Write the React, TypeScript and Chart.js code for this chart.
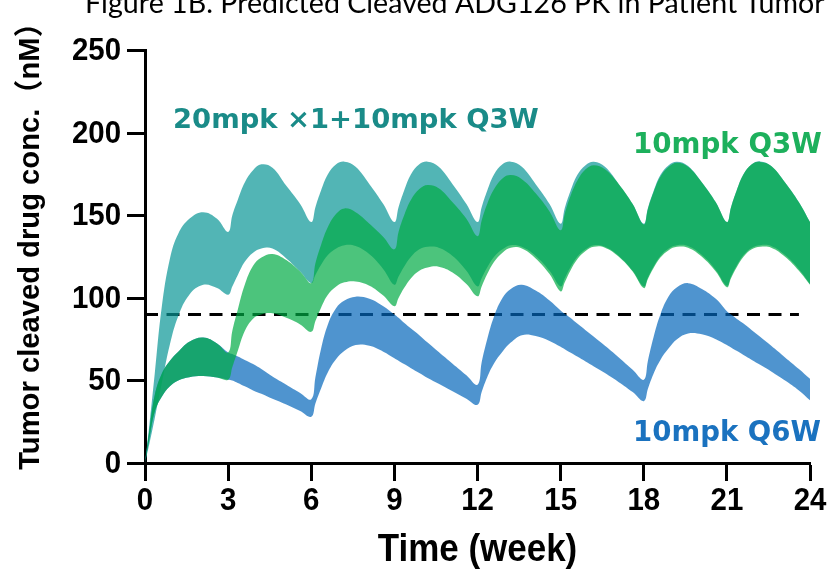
import { useEffect, useRef } from "react";
import { Chart, registerables } from "chart.js";

Chart.register(...registerables);

// Sampling times (weeks); each 3-week dosing interval is sampled densely right after the dose.
const WEEKS = [
  0, 0.15, 0.35, 0.6, 0.9, 1.2, 1.6, 2.1, 2.6,
  3, 3.15, 3.35, 3.6, 3.9, 4.2, 4.6, 5.1, 5.6,
  6, 6.15, 6.35, 6.6, 6.9, 7.2, 7.6, 8.1, 8.6,
  9, 9.15, 9.35, 9.6, 9.9, 10.2, 10.6, 11.1, 11.6,
  12, 12.15, 12.35, 12.6, 12.9, 13.2, 13.6, 14.1, 14.6,
  15, 15.15, 15.35, 15.6, 15.9, 16.2, 16.6, 17.1, 17.6,
  18, 18.15, 18.35, 18.6, 18.9, 19.2, 19.6, 20.1, 20.6,
  21, 21.15, 21.35, 21.6, 21.9, 22.2, 22.6, 23.1, 23.6,
  24,
];

// 20mpk x1 + 10mpk Q3W: upper / lower bound (nM)
const LOADING_HIGH = [
  0, 22, 54, 94, 124, 139, 148, 152, 148,
  140, 150, 159.5, 170, 177.5, 181, 179, 168, 157,
  146, 155, 165, 175, 181, 182.6, 179.5, 169, 157,
  146, 155, 165, 175, 181, 182.6, 179.5, 169, 157,
  146, 155, 165, 175, 181, 182.6, 179.5, 169, 157,
  145, 154.5, 164.5, 174.5, 180.5, 182.6, 179.5, 169, 157,
  145, 154.5, 164.5, 174.5, 180.5, 182.6, 180, 170, 158,
  146, 155, 165, 175, 181, 182.8, 180, 170, 158,
  146,
];
const LOADING_LOW = [
  0, 11, 27, 48, 72, 89, 102, 108, 106,
  102, 107, 114, 122, 127.5, 130, 130, 124, 116,
  109, 114, 120, 126, 130, 132, 131.5, 126.5, 117.5,
  108, 113, 119, 125, 129.5, 131, 130.5, 125.5, 116.5,
  107, 112, 118.5, 125, 129.5, 132, 131, 125.5, 116.5,
  107, 112, 118.5, 125, 129.5, 132, 131, 125.5, 116.5,
  107, 112.5, 119, 125.5, 130, 132, 131.5, 126, 117,
  107.5, 113, 119.5, 126, 130.5, 132, 131.5, 126, 117.5,
  108.5,
];

// 10mpk Q3W: upper / lower bound (nM)
const Q3W_HIGH = [
  0, 19, 41, 54, 62, 67.5, 73.5, 76, 72.5,
  67, 80, 93, 108, 119.5, 124.5, 126.7, 123, 116,
  109, 121, 132, 143, 151, 154.3, 152, 145, 137,
  129.5, 140, 150, 159.5, 166, 168.5, 166.5, 158, 148,
  137.5, 147, 157, 166, 172.5, 174.5, 172, 163.5, 152.5,
  141, 151, 161.5, 171, 178, 180.5, 178, 169, 157,
  144.5, 154, 164, 173.5, 179.5, 182, 179.5, 170, 158,
  146, 155, 165, 175, 181, 182.5, 180, 170, 158,
  146,
];
const Q3W_LOW = [
  0, 14, 31, 40, 46.5, 50, 52, 52.7, 51.8,
  50.5, 58, 68, 80, 87.5, 90, 90.7, 88, 84,
  79.5, 86, 94, 102, 107, 109.5, 110, 107.5, 101.5,
  95, 100, 106, 112, 116.5, 118.5, 119, 115.5, 108.5,
  101, 107, 114.5, 122, 127.5, 130.5, 130, 124, 114.5,
  104, 109.5, 116.5, 123.5, 128.5, 131, 130.5, 125, 116,
  106, 111.5, 118, 124.5, 129, 131, 130.5, 125, 116,
  106.5, 112, 118.5, 125, 129.5, 131, 130.5, 125, 116.5,
  108,
];

// 10mpk Q6W: upper / lower bound (nM)
const Q6W_HIGH = [
  0, 19, 41, 54, 62, 67.5, 73.5, 76, 72.5,
  67, 66, 64.5, 62.5, 60, 57, 52.5, 47.5, 42.5,
  38.6, 52, 69, 84, 94, 98.5, 100.8, 99.5, 95,
  90, 88, 85, 81.5, 77.5, 73, 67.3, 60.2, 53.2,
  47.4, 61, 75, 89, 100, 105.5, 108, 104.5, 98.5,
  92.5, 90.5, 88, 84.5, 80.5, 76.5, 71, 64, 56.5,
  50.5, 62, 76, 90, 101, 106.5, 109, 105.5, 99.5,
  92, 90, 87.5, 84.5, 80.5, 76.5, 71, 64, 57,
  51,
];
const Q6W_LOW = [
  0, 14, 31, 40, 46.5, 50, 52, 52.7, 51.8,
  50.5, 50, 48.5, 46.5, 44, 42, 39, 35.5, 31.5,
  28, 36, 45, 55, 63, 68, 71.5, 71, 67.5,
  63.5, 62, 60, 57.5, 54.5, 51.5, 48, 43.5, 39,
  35.3, 43, 52, 60.5, 67.5, 73, 77.5, 77, 74,
  70.5, 69, 67, 64.5, 61.5, 58.5, 54.5, 49, 43,
  37.5, 45, 54, 62.5, 69.5, 75, 78.5, 78, 75,
  71.5, 70, 68, 65.5, 62.5, 59.5, 55.5, 50, 44,
  38,
];

// Efficacy threshold (nM) and the span of weeks it is drawn over
const THRESHOLD = 90;
const THRESHOLD_WEEKS = [0, 23.6];

const X_MIN = 0;
const X_MAX = 24;
const X_STEP = 3;
const Y_MIN = 0;
const Y_MAX = 250;
const Y_STEP = 50;

const FIGURE_TITLE = "Figure 1B. Predicted Cleaved ADG126 PK in Patient Tumor";
const X_TITLE = "Time (week)";
const Y_TITLE = "Tumor cleaved drug conc.（nM）";
const LOADING_LABEL = "20mpk ×1+10mpk Q3W";
const Q3W_LABEL = "10mpk Q3W";
const Q6W_LABEL = "10mpk Q6W";

const TEAL_FILL = "rgba(8,149,149,0.7)";
const GREEN_FILL = "rgba(0,171,69,0.7)";
const BLUE_FILL = "rgba(4,102,186,0.7)";
const TEAL_TEXT = "#1a8b88";
const GREEN_TEXT = "#1db05c";
const BLUE_TEXT = "#1a72bf";

const AXIS_FONT = '"Liberation Sans", Arial, "Noto Sans CJK SC", sans-serif';
const LABEL_FONT = '"DejaVu Sans", Verdana, sans-serif';
const TITLE_FONT = 'Lato, "Noto Sans", sans-serif';
const SQUEEZE = 0.92;

const toPoints = (values: number[]) => WEEKS.map((x, i) => ({ x, y: values[i] }));

function fitSize(ctx: CanvasRenderingContext2D, text: string, weight: string, family: string, width: number) {
  ctx.font = `${weight} 100px ${family}`;
  return (100 * width) / ctx.measureText(text).width;
}

function drawSqueezed(
  ctx: CanvasRenderingContext2D,
  text: string,
  x: number,
  y: number,
  align: CanvasTextAlign,
  baseline: CanvasTextBaseline
) {
  ctx.save();
  ctx.translate(x, y);
  ctx.scale(SQUEEZE, 1);
  ctx.textAlign = align;
  ctx.textBaseline = baseline;
  ctx.fillText(text, 0, 0);
  ctx.restore();
}

const textPlugin = {
  id: "figureText",
  afterDraw(chart: any) {
    const ctx: CanvasRenderingContext2D = chart.ctx;
    const xs = chart.scales.x;
    const ys = chart.scales.y;
    ctx.save();

    // figure caption, partly above the page edge
    ctx.fillStyle = "#000";
    const capSize = fitSize(ctx, FIGURE_TITLE, "400", TITLE_FONT, 740);
    ctx.font = `400 ${capSize}px ${TITLE_FONT}`;
    ctx.textAlign = "left";
    ctx.textBaseline = "alphabetic";
    ctx.fillText(FIGURE_TITLE, 85, 13);

    // tick labels
    ctx.font = `bold 32px ${AXIS_FONT}`;
    for (const t of ys.ticks) {
      drawSqueezed(ctx, String(t.value), 121, ys.getPixelForValue(t.value) + 1, "right", "middle");
    }
    for (const t of xs.ticks) {
      drawSqueezed(ctx, String(t.value), xs.getPixelForValue(t.value), 510, "center", "alphabetic");
    }

    // axis titles
    ctx.font = `bold 38px ${AXIS_FONT}`;
    drawSqueezed(ctx, X_TITLE, (xs.left + xs.right) / 2, 561, "center", "alphabetic");

    const ySize = fitSize(ctx, Y_TITLE, "bold", AXIS_FONT, 462);
    ctx.font = `bold ${ySize}px ${AXIS_FONT}`;
    ctx.save();
    ctx.translate(31, 239);
    ctx.rotate(-Math.PI / 2);
    ctx.textAlign = "center";
    ctx.textBaseline = "middle";
    ctx.fillText(Y_TITLE, 0, 0);
    ctx.restore();

    // series labels
    const labels: [string, string, number, number, number][] = [
      [LOADING_LABEL, TEAL_TEXT, 173, 128, 366],
      [Q3W_LABEL, GREEN_TEXT, 633, 153, 189],
      [Q6W_LABEL, BLUE_TEXT, 633, 441, 188],
    ];
    ctx.textAlign = "left";
    ctx.textBaseline = "alphabetic";
    for (const [text, color, x, y, w] of labels) {
      const s = fitSize(ctx, text, "bold", LABEL_FONT, w);
      ctx.font = `bold ${s}px ${LABEL_FONT}`;
      ctx.fillStyle = color;
      ctx.fillText(text, x, y);
    }
    ctx.restore();
  },
};

const bandLine = (values: number[], fill: string | boolean, color: string) => ({
  data: toPoints(values),
  fill,
  backgroundColor: color,
  borderColor: "rgba(0,0,0,0)",
  borderWidth: 0,
  pointRadius: 0,
  tension: 0.4,
});

export default function App() {
  const ref = useRef<HTMLCanvasElement | null>(null);

  useEffect(() => {
    if (!ref.current) return;
    const axisCommon = {
      grid: {
        drawOnChartArea: false,
        drawTicks: true,
        tickLength: 18,
        tickWidth: 3,
        tickColor: "#000",
      },
      border: { display: true, color: "#000", width: 3 },
    };
    const chart = new Chart(ref.current, {
      type: "line",
      data: {
        datasets: [
          // index 0 is painted last, so 10mpk Q3W sits on top
          bandLine(Q3W_LOW, false, GREEN_FILL),
          bandLine(Q3W_HIGH, "-1", GREEN_FILL),
          bandLine(LOADING_LOW, false, TEAL_FILL),
          bandLine(LOADING_HIGH, "-1", TEAL_FILL),
          bandLine(Q6W_LOW, false, BLUE_FILL),
          bandLine(Q6W_HIGH, "-1", BLUE_FILL),
          {
            data: THRESHOLD_WEEKS.map((x) => ({ x, y: THRESHOLD })),
            borderColor: "#000",
            borderWidth: 3,
            borderDash: [13, 8.5],
            pointRadius: 0,
            fill: false,
            tension: 0,
          },
        ],
      },
      options: {
        animation: false,
        responsive: false,
        devicePixelRatio: 1,
        events: [],
        layout: { padding: { left: 0, top: 50.5, right: 23, bottom: 0 } },
        plugins: { legend: { display: false }, tooltip: { enabled: false } },
        scales: {
          x: {
            type: "linear",
            min: X_MIN,
            max: X_MAX,
            ticks: { stepSize: X_STEP, display: false },
            ...axisCommon,
            afterFit: (s: any) => {
              s.height = 110;
            },
          },
          y: {
            min: Y_MIN,
            max: Y_MAX,
            ticks: { stepSize: Y_STEP, display: false },
            ...axisCommon,
            afterFit: (s: any) => {
              s.width = 145;
            },
          },
        },
      },
      plugins: [textPlugin],
    } as any);
    return () => chart.destroy();
  }, []);

  return (
    <div style={{ position: "fixed", left: 0, top: 0, width: 833, height: 573, background: "#fff" }}>
      <canvas ref={ref} width={833} height={573} />
    </div>
  );
}
